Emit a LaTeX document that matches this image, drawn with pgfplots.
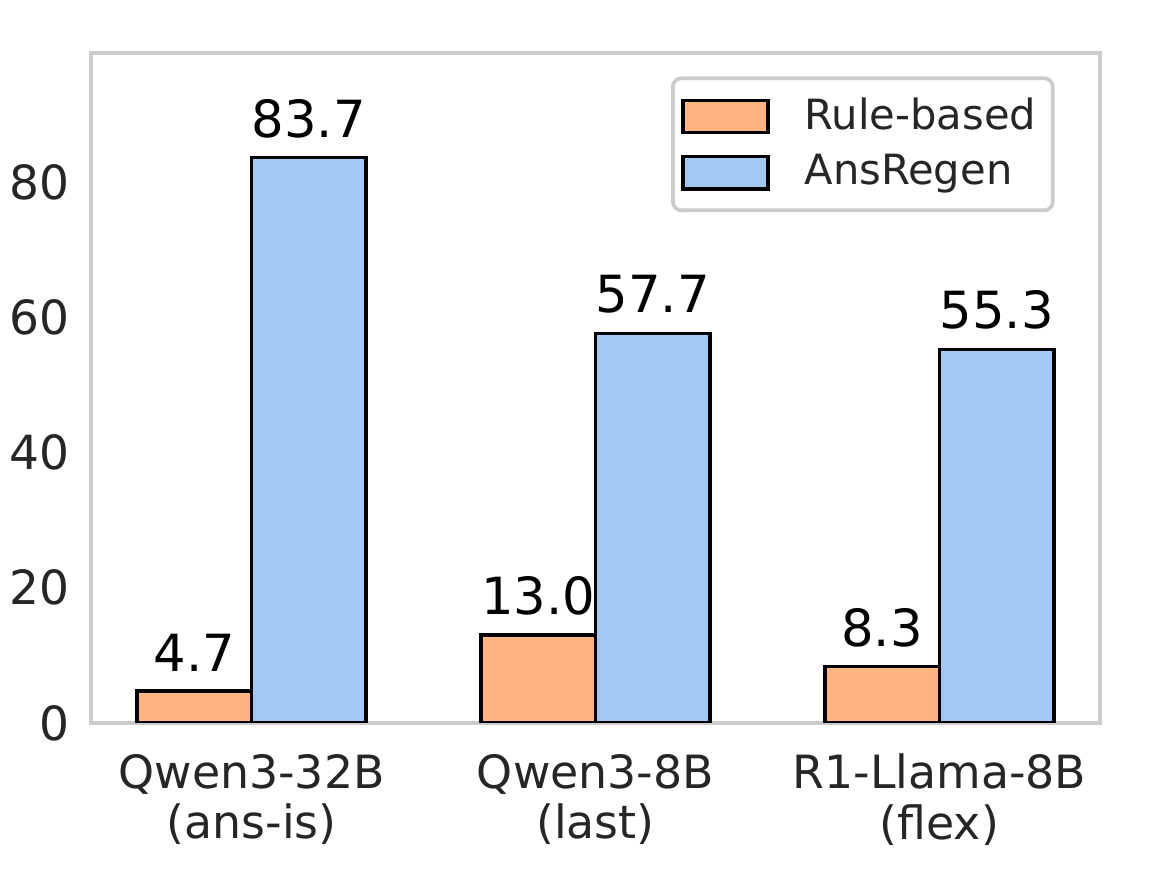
\documentclass[border=0pt]{standalone}
\usepackage{pgfplots}
\pgfplotsset{compat=1.18}
\usepackage{fontspec}
\setmainfont{DejaVu Sans}

\definecolor{rulec}{HTML}{FFB482}
\definecolor{regenc}{HTML}{A1C9F4}
\definecolor{framec}{HTML}{CCCCCC}
\definecolor{textc}{HTML}{262626}

\begin{document}
\begin{tikzpicture}
  \begin{axis}[
      scale only axis,
      width=242.2pt, height=160.8pt,
      xmin=-0.467, xmax=2.467,
      ymin=0, ymax=99.2,
      ybar=0pt,
      bar width=0.333,
      axis line style={draw=framec, line width=1pt},
      tick style={draw=none},
      ytick={0,20,40,60,80},
      xtick={0,1,2},
      xticklabels={Qwen3-32B\\(ans-is), Qwen3-8B\\(last), R1-Llama-8B\\(flex)},
      xticklabel style={align=center, font=\fontsize{11}{12.2}\selectfont, text=textc, yshift=0.3pt},
      yticklabel style={font=\fontsize{11.3}{13}\selectfont, text=textc, xshift=-1.7pt},
      /pgf/number format/assume math mode=true,
      nodes near coords={\pgfmathprintnumber[fixed,fixed zerofill,precision=1]{\pgfplotspointmeta}},
      every node near coord/.append style={font=\fontsize{12.3}{14}\selectfont, text=black, yshift=1pt},
      legend style={at={(0.955,0.965)}, anchor=north east, draw=framec, line width=0.9pt,
        rounded corners=2pt, font=\fontsize{10}{12}\selectfont, text=textc,
        row sep=0.6pt, inner xsep=2pt, inner ysep=2.6pt},
      legend cell align=left,
      legend image code/.code={
        \draw[#1, sharp corners, line width=0.8pt, draw=black] (0pt,-3.85pt) rectangle (20.4pt,3.85pt);
        \path[draw=none, fill=none] (0pt,0pt) -- (27.2pt,0pt);},
    ]
    \addplot[fill=rulec, draw=black, line width=0.8pt]
      coordinates {(0,4.7) (1,13.0) (2,8.3)};
    \addplot[fill=regenc, draw=black, line width=0.8pt]
      coordinates {(0,83.7) (1,57.7) (2,55.3)};
    \legend{Rule-based, AnsRegen}
  \end{axis}
  \pgfresetboundingbox
  \path (current axis.south west) ++(-21.84pt,-36.96pt) coordinate (bbsw);
  \path (current axis.north east) ++(12.96pt,12.72pt) coordinate (bbne);
  \path[use as bounding box] (bbsw) rectangle (bbne);
\end{tikzpicture}
\end{document}
